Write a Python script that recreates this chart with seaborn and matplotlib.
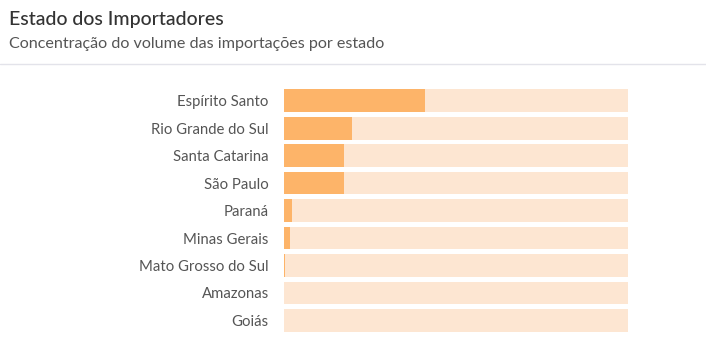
import matplotlib
matplotlib.use("Agg")
import matplotlib.pyplot as plt
import pandas as pd
import seaborn as sns

# Dados (participação % no volume importado)
estados = [
    "Espírito Santo",
    "Rio Grande do Sul",
    "Santa Catarina",
    "São Paulo",
    "Paraná",
    "Minas Gerais",
    "Mato Grosso do Sul",
    "Amazonas",
    "Goiás",
]
participacao = [41.0, 19.8, 17.4, 17.4, 2.3, 1.7, 0.3, 0.0, 0.0]
total = [100.0] * len(estados)

TITLE = "Estado dos Importadores"
SUBTITLE = "Concentração do volume das importações por estado"

sns.set_theme(style="white")
plt.rcParams["font.family"] = ["Lato", "DejaVu Sans"]

df = pd.DataFrame({"estado": estados, "valor": participacao, "total": total})

fig = plt.figure(figsize=(7.06, 3.56), dpi=100)
ax = fig.add_axes([0.4023, 0.0611, 0.4872, 0.6952])

# faixa de fundo + barra de valor
sns.barplot(data=df, y="estado", x="total", orient="h", color="#fde6d2",
            width=0.836, saturation=1, linewidth=0, ax=ax)
sns.barplot(data=df, y="estado", x="valor", orient="h", color="#fdb469",
            width=0.836, saturation=1, linewidth=0, ax=ax)

ax.set_xlim(0, 100)
ax.set_ylim(len(estados) - 0.5, -0.5)
ax.set_xlabel("")
ax.set_ylabel("")
ax.set_xticks([])
ax.tick_params(axis="y", length=0, pad=11, labelsize=10.7, labelcolor="#555555")
for s in ax.spines.values():
    s.set_visible(False)

fig.text(9 / 706, 1 - 19 / 356, TITLE, fontsize=14, color="#333333",
         fontweight="medium", va="center", ha="left")
fig.text(9 / 706, 1 - 44 / 356, SUBTITLE, fontsize=11.6, color="#555555",
         va="center", ha="left")
fig.add_artist(plt.Line2D([0, 1], [1 - 63.5 / 356] * 2, color="#e3e3ea",
                          linewidth=1, transform=fig.transFigure))

fig.savefig("out.png", dpi=100, facecolor="white")
